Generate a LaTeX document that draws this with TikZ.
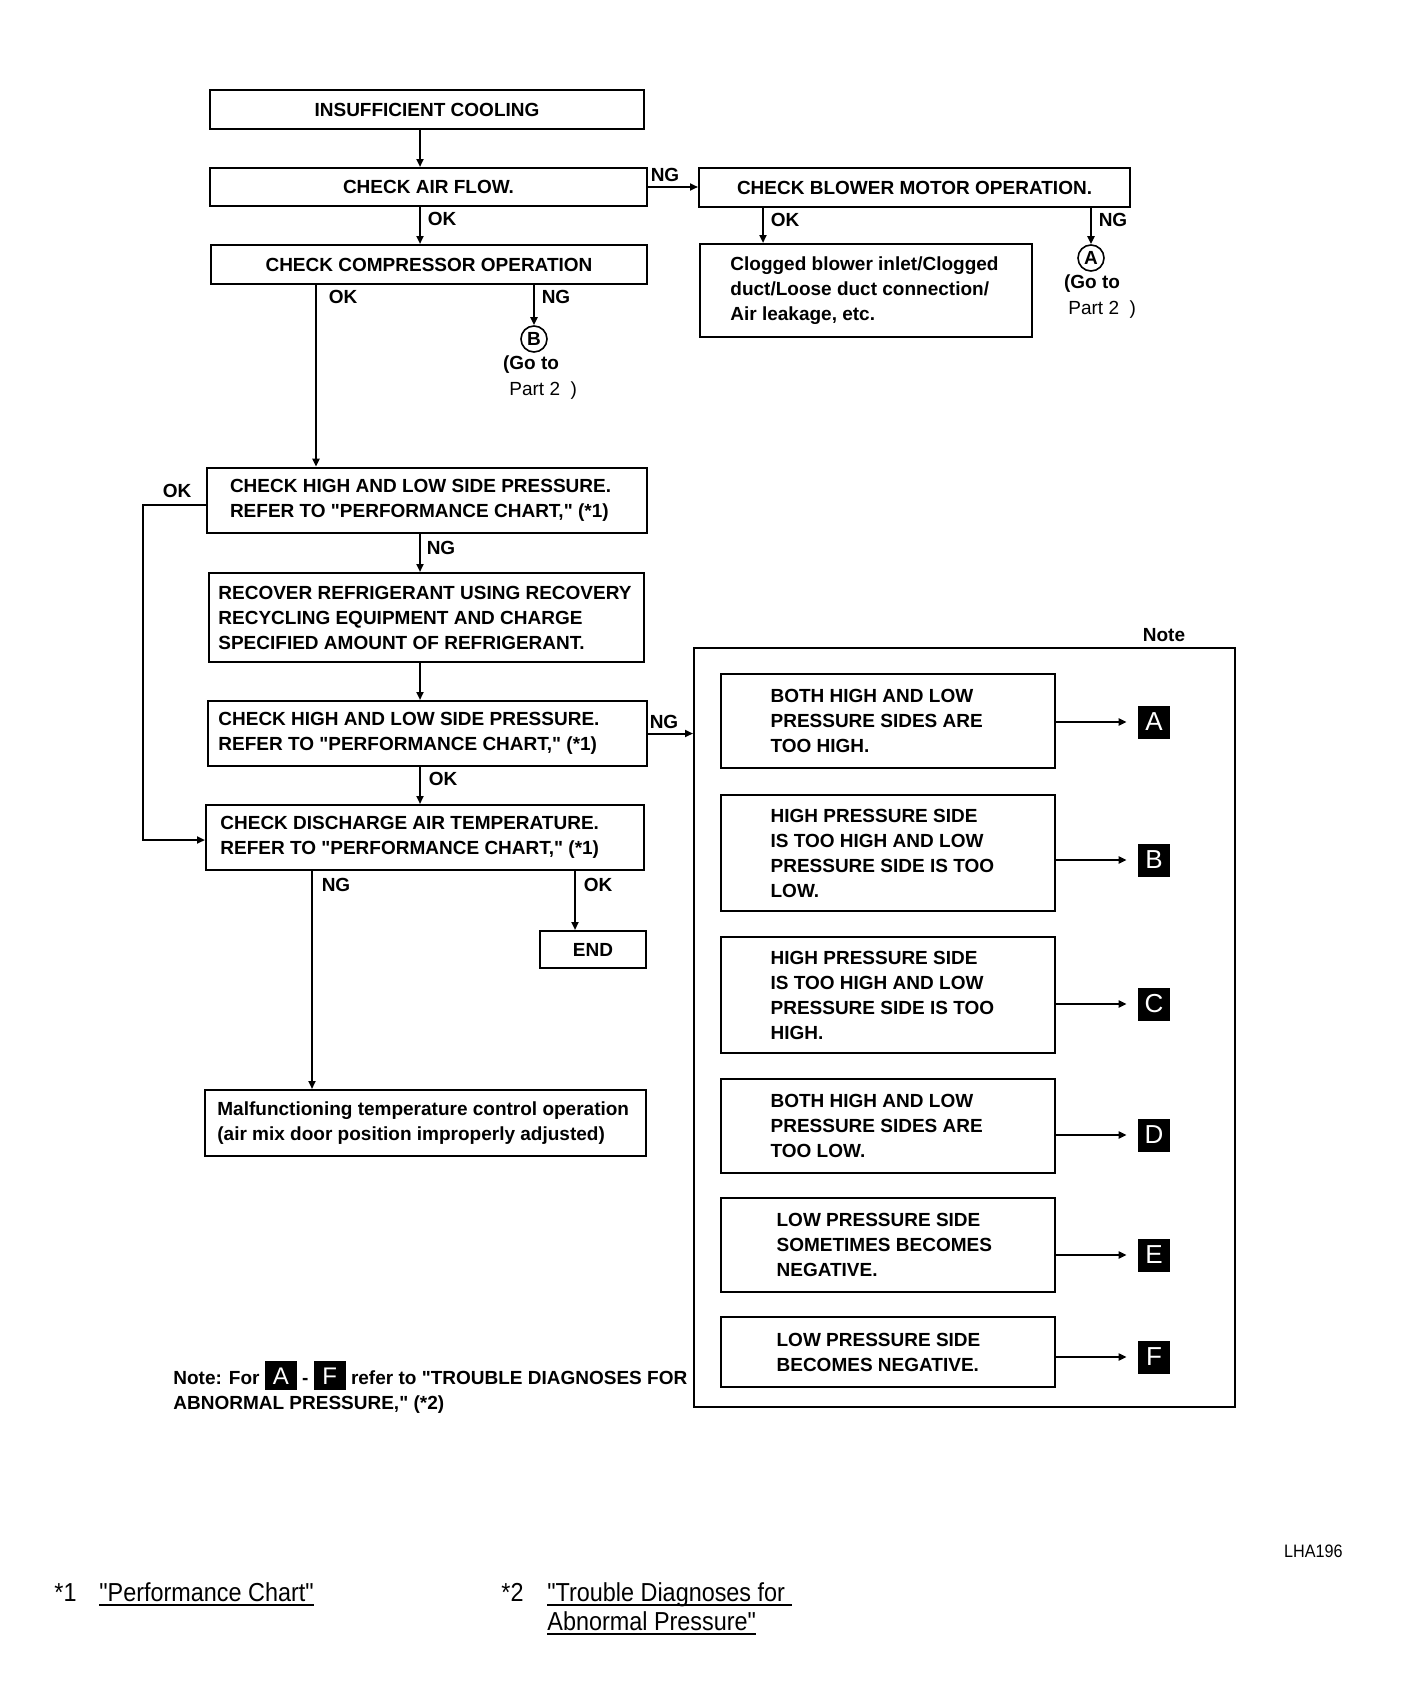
\documentclass[tikz,border=0pt]{standalone}
\usepackage{fontspec}
\setmainfont{Liberation Sans}
\usepackage{graphicx}
\usetikzlibrary{arrows.meta, positioning}

\newcommand{\boxfont}{\fontsize{9.5}{12.5}\selectfont\bfseries}
\newcommand{\footfont}{\fontsize{13}{14.5}\selectfont}
\newcommand{\qq}{\textquotedbl}
\newcommand{\letterbox}[1]{{\setlength{\fboxsep}{1.5pt}\colorbox{black}{\makebox[13pt]{\fontsize{12}{12}\selectfont\mdseries\color{white}\rule[-1pt]{0pt}{11.5pt}#1}}}}
\newsavebox{\linkbox}
\newcommand{\ulink}[1]{\sbox{\linkbox}{#1}\rlap{\rule[-2.5pt]{\wd\linkbox}{0.9pt}}\usebox{\linkbox}}

\begin{document}
\begin{tikzpicture}[x=0.5pt, y=-0.5pt,
		box/.style={draw, line width=1pt, rectangle, inner sep=0pt},
		txt/.style={inner sep=0pt, align=left, font=\boxfont},
		lbl/.style={inner sep=0pt, font=\boxfont},
		arr/.style={line width=1pt, -{Triangle[length=4pt,width=3.5pt]}},
		goto/.style={circle, draw, line width=0.8pt, minimum size=13pt, inner sep=0pt, font=\boxfont},
		lettersq/.style={fill=black, text=white, minimum width=16pt, minimum height=16.5pt, inner sep=0pt, font=\fontsize{13}{13}\selectfont},
		foot/.style={inner sep=0pt, anchor=base west, font=\footfont}]

			\def\spineX{420}

			\useasboundingbox (0,0) rectangle (1408,1702);

			\coordinate (spine) at (\spineX,0);

			\node [box, minimum width=217pt, minimum height=19.5pt, font=\boxfont] (ins) at (427,109.5) {INSUFFICIENT COOLING};
			\node [box, minimum width=218.5pt, minimum height=19pt, font=\boxfont] (air) at (428.5,187) {CHECK AIR FLOW.};
			\node [box, minimum width=218pt, minimum height=19.5pt, font=\boxfont] (comp) at (429,264.5) {CHECK COMPRESSOR OPERATION};
			\node [box, minimum width=215.5pt, minimum height=19.5pt, font=\boxfont] (blower) at (914.5,187.5) {CHECK BLOWER MOTOR OPERATION.};

			\node [box, minimum width=166pt, minimum height=46.5pt] (clog) at (866,290.5) {};
			\node [txt, right=15.5pt of clog.west] (clog-t) {Clogged blower inlet/Clogged\\duct/Loose duct connection/\\Air leakage, etc.};

			\node [box, line width=1.4pt, minimum width=220pt, minimum height=32.5pt] (high1) at (427,500.5) {};
			\node [txt, right=12pt of high1.west] (high1-t) {CHECK HIGH AND LOW SIDE PRESSURE.\\REFER TO \qq PERFORMANCE CHART,\qq{} (*1)};

			\node [box, minimum width=217.5pt, minimum height=44.5pt] (recover) at (426.5,617.5) {};
			\node [txt, right=5pt of recover.west] (recover-t) {RECOVER REFRIGERANT USING RECOVERY\\RECYCLING EQUIPMENT AND CHARGE\\SPECIFIED AMOUNT OF REFRIGERANT.};

			\node [box, minimum width=219.5pt, minimum height=32.5pt] (high2) at (427.5,733.5) {};
			\node [txt, right=5.5pt of high2.west] (high2-t) {CHECK HIGH AND LOW SIDE PRESSURE.\\REFER TO \qq PERFORMANCE CHART,\qq{} (*1)};

			\node [box, minimum width=219pt, minimum height=32.5pt] (disch) at (425,837.5) {};
			\node [txt, right=7.5pt of disch.west] (disch-t) {CHECK DISCHARGE AIR TEMPERATURE.\\REFER TO \qq PERFORMANCE CHART,\qq{} (*1)};

			\node [box, minimum width=53pt, minimum height=18.5pt, font=\boxfont] (endbox) at (593,949.5) {END};

			\node [box, minimum width=220.5pt, minimum height=33pt] (malf) at (425.5,1123) {};
			\node [txt, right=6.5pt of malf.west] (malf-t) {Malfunctioning temperature control operation\\(air mix door position improperly adjusted)};

			\begin{scope}
				\draw [arr] (ins.south -| spine) -- (air.north -| spine);
				\draw [arr] (air.south -| spine) -- (comp.north -| spine);
				\node [lbl] (okA) at (442,219) {OK};

				\draw [arr] (air.east) -- (air.east -| blower.west);
				\node [lbl] (ngA) at (665,175) {NG};

				\coordinate (bok) at ([xshift=32.5pt]blower.south west);
				\draw [arr] (bok) -- (bok |- clog.north);
				\node [lbl] (okB) at (785,220) {OK};

				\node [goto] (gotoA) at (1091,258) {A};
				\draw [arr] (gotoA.north |- blower.south) -- (gotoA.north);
				\node [lbl] (ngB) at (1113,220) {NG};
				\node [lbl] (gotoA-1) at (1092,284) {(Go to};
				\node [lbl, anchor=west, font=\boxfont\mdseries] (gotoA-2) at (1068,310) {Part 2\ \ )};

				\coordinate (cok) at ([xshift=53pt]comp.south west);
				\draw [arr] (cok) -- (cok |- high1.north);
				\node [lbl] (okC) at (343,297) {OK};

				\node [goto] (gotoB) at (534,339) {B};
				\draw [arr] (gotoB.north |- comp.south) -- (gotoB.north);
				\node [lbl] (ngC) at (556,297) {NG};
				\node [lbl] (gotoB-1) at (531,365) {(Go to};
				\node [lbl, anchor=west, font=\boxfont\mdseries] (gotoB-2) at (509,391) {Part 2\ \ )};

				\draw [arr] ([yshift=-2.25pt]high1.west) -- ++(-63,0) |- ([yshift=-1.25pt]disch.west);
				\node [lbl] (okD) at (177,491) {OK};

				\draw [arr] (high1.south -| spine) -- (recover.north -| spine);
				\node [lbl] (ngD) at (441,548) {NG};
				\draw [arr] (recover.south -| spine) -- (high2.north -| spine);
				\draw [arr] (high2.south -| spine) -- (disch.north -| spine);
				\node [lbl] (okE) at (443,779) {OK};

				\coordinate (dng) at ([xshift=53.5pt]disch.south west);
				\draw [arr] (dng) -- (dng |- malf.north);
				\node [lbl] (ngF) at (336,885) {NG};

				\coordinate (dok) at ([xshift=18pt]endbox.north west);
				\draw [arr] (dok |- disch.south) -- (dok);
				\node [lbl] (okF) at (598,885) {OK};
			\end{scope}

			\node [box, minimum width=270.5pt, minimum height=379.5pt] (note) at (964.5,1027.5) {};
			\node [lbl] (note-l) at (1164,635) {Note};
			\draw [arr] (high2.east) -- (high2.east -| note.west);
			\node [lbl] (ngE) at (664,722) {NG};

			\foreach \k/\yb/\hb/\ys/\dx/\txt in {
				A/721/47/722/25/{BOTH HIGH AND LOW\\PRESSURE SIDES ARE\\TOO HIGH.},
				B/853/58/860/25/{HIGH PRESSURE SIDE\\IS TOO HIGH AND LOW\\PRESSURE SIDE IS TOO\\LOW.},
				C/995/58/1004/25/{HIGH PRESSURE SIDE\\IS TOO HIGH AND LOW\\PRESSURE SIDE IS TOO\\HIGH.},
				D/1126/47/1135/25/{BOTH HIGH AND LOW\\PRESSURE SIDES ARE\\TOO LOW.},
				E/1245/47/1255/28/{LOW PRESSURE SIDE\\SOMETIMES BECOMES\\NEGATIVE.},
				F/1352/35/1357/28/{LOW PRESSURE SIDE\\BECOMES NEGATIVE.}}
			{
				\node [box, line width=0.8pt, minimum width=167pt, minimum height=\hb pt] (case\k) at (888,\yb) {};
				\node [txt, right=\dx pt of case\k.west] (case\k-t) {\txt};
				\node [lettersq] (sq\k) at (1154,\ys) {\k};
				\draw [arr, shorten >=5.5pt] (sq\k -| case\k.east) -- (sq\k.west);
			}

			\node [txt, anchor=west] (abn) at (173,1387) {Note: For \letterbox{A} - \letterbox{F} refer to \qq TROUBLE DIAGNOSES FOR\\ABNORMAL PRESSURE,\qq{} (*2)};

			\node [inner sep=0pt, anchor=east, font=\fontsize{9}{9}\selectfont] (code) at (1343,1551) {\scalebox{0.9}[1]{LHA196}};

			\node [foot] (fn1) at (54,1601) {\scalebox{0.9}[1]{*1}};
			\node [foot] (fn1-t) at (99,1601) {\scalebox{0.9}[1]{\ulink{\qq Performance Chart\qq}}};
			\node [foot] (fn2) at (501,1601) {\scalebox{0.9}[1]{*2}};
			\node [foot] (fn2-t) at (547,1601) {\scalebox{0.9}[1]{\ulink{\qq Trouble Diagnoses for\ }}};
			\node [foot] (fn2-u) at (547,1630) {\scalebox{0.9}[1]{\ulink{Abnormal Pressure\qq}}};
		\end{tikzpicture}
\end{document}
